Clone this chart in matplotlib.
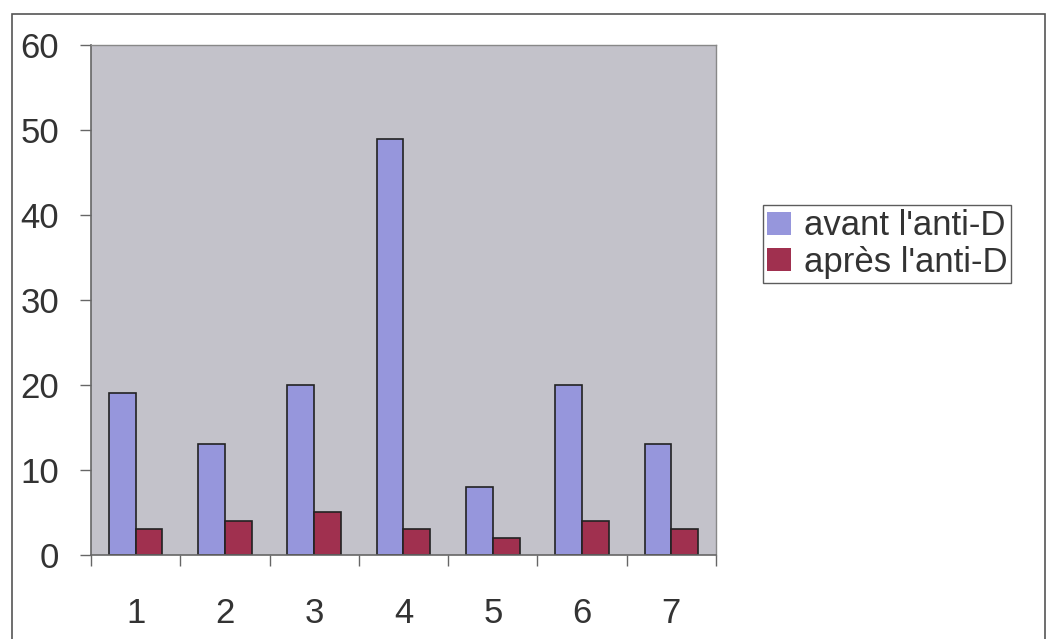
import numpy as np
import matplotlib.pyplot as plt
from matplotlib.patches import Rectangle

plt.rcParams['font.family'] = ['Liberation Sans', 'DejaVu Sans']

# Data
categories = ['1', '2', '3', '4', '5', '6', '7']
avant = [19, 13, 20, 49, 8, 20, 13]
apres = [3, 4, 5, 3, 2, 4, 3]

fig = plt.figure(figsize=(10.48, 6.39), dpi=100)
fig.patch.set_facecolor('white')

# Outer chart border
fig.patches.append(Rectangle((0.011, -0.01), 0.986, 0.988, transform=fig.transFigure,
                             fill=False, edgecolor='#555555', linewidth=1.2))

ax = fig.add_axes([0.0868, 0.1315, 0.5964, 0.798])
ax.set_facecolor('#c3c2ca')

x = np.arange(len(categories))
w = 0.3
ax.bar(x - w / 2, avant, w, color='#9696dc', edgecolor='#222222', linewidth=1.2,
       label="avant l'anti-D")
ax.bar(x + w / 2, apres, w, color='#a0304f', edgecolor='#222222', linewidth=1.2,
       label="après l'anti-D")

ax.set_xlim(-0.5, len(categories) - 0.5)
ax.set_ylim(0, 60)
ax.set_yticks(range(0, 61, 10))
ax.set_xticks(x)
ax.set_xticklabels(categories)
ax.set_xticks(np.arange(-0.5, len(categories), 1), minor=True)
ax.tick_params(axis='x', which='major', length=0, pad=30, labelsize=25, labelcolor='#333333')
ax.tick_params(axis='x', which='minor', length=8, width=1, color='#666666', direction='out')
ax.tick_params(axis='y', length=8, width=1, color='#666666', pad=15, labelsize=25,
               labelcolor='#333333')

for side in ['left', 'bottom']:
    ax.spines[side].set_color('#666666')
    ax.spines[side].set_linewidth(1.2)
for side in ['top', 'right']:
    ax.spines[side].set_color('#888888')
    ax.spines[side].set_linewidth(1.0)

leg = fig.legend(loc='upper left', bbox_to_anchor=(0.728, 0.679), fontsize=25,
                 frameon=True, fancybox=False, edgecolor='#333333',
                 handlelength=0.7, handleheight=0.65, handletextpad=0.35,
                 borderpad=0.12, labelspacing=0.1, borderaxespad=0)
leg.get_frame().set_linewidth(1.0)
for h in leg.legend_handles:
    h.set_edgecolor('none')
for t in leg.get_texts():
    t.set_color('#333333')

plt.savefig('out.png', dpi=100)
